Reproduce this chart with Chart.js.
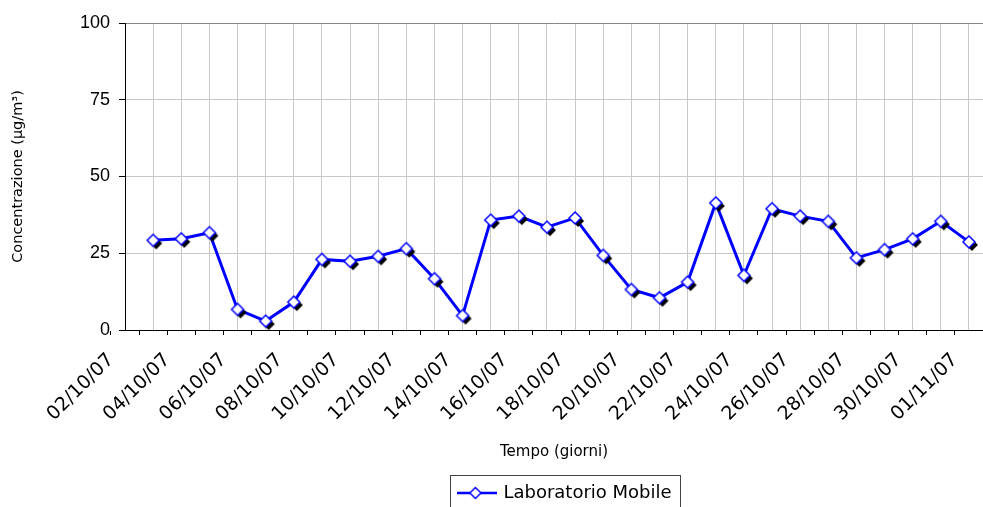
<!DOCTYPE html>
<html>
<head>
<meta charset="utf-8">
<script src="https://cdn.jsdelivr.net/npm/chart.js@4.4.0/dist/chart.umd.min.js"></script>
<style>
html, body { margin: 0; padding: 0; background: #fff; overflow: hidden; }
</style>
</head>
<body>
<canvas id="grafico" width="983" height="522"></canvas>
<script>
// giorni di misura (medie giornaliere)
var giorni = ['03/10/07', '04/10/07', '05/10/07', '06/10/07', '07/10/07', '08/10/07',
  '09/10/07', '10/10/07', '11/10/07', '12/10/07', '13/10/07', '14/10/07', '15/10/07',
  '16/10/07', '17/10/07', '18/10/07', '19/10/07', '20/10/07', '21/10/07', '22/10/07',
  '23/10/07', '24/10/07', '25/10/07', '26/10/07', '27/10/07', '28/10/07', '29/10/07',
  '30/10/07', '31/10/07', '01/11/07'];

// concentrazione in ug/m3, laboratorio mobile
var concentrazione = [29.2, 29.7, 31.7, 6.7, 2.9, 9.1, 23.0, 22.4, 24.0, 26.5,
  16.7, 4.7, 35.8, 37.1, 33.5, 36.5, 24.3, 13.2, 10.5, 15.6,
  41.4, 17.8, 39.5, 37.1, 35.4, 23.5, 26.2, 29.7, 35.4, 28.7];

// etichette asse x, una ogni due giorni
var etichette_x = ['02/10/07', '04/10/07', '06/10/07', '08/10/07', '10/10/07', '12/10/07',
  '14/10/07', '16/10/07', '18/10/07', '20/10/07', '22/10/07', '24/10/07', '26/10/07',
  '28/10/07', '30/10/07', '01/11/07'];

var tick_y = [0, 25, 50, 75, 100];

var nome_serie = 'Laboratorio Mobile';

// punti: giorno 0 = 02/10/07, valore medio posto a mezzogiorno
var punti = [];
for (var i = 0; i < giorni.length; i++) {
  punti.push({x: i + 1.5, y: concentrazione[i]});
}

// rombo bianco bordato di blu con ombra nera (stile excel)
function crea_marcatore(ombra) {
  var c = document.createElement('canvas');
  c.width = 26; c.height = 26;
  var g = c.getContext('2d');
  var r = 6;
  function rombo(cx, cy) {
    g.beginPath();
    g.moveTo(cx, cy - r); g.lineTo(cx + r, cy); g.lineTo(cx, cy + r); g.lineTo(cx - r, cy);
    g.closePath();
  }
  if (ombra) { rombo(16, 16); g.fillStyle = '#000'; g.fill(); }
  rombo(13, 13);
  g.fillStyle = '#fff'; g.fill();
  g.lineWidth = 1.5; g.strokeStyle = '#0000ff'; g.stroke();
  return c;
}

function crea_marcatore_legenda() {
  var c = document.createElement('canvas');
  c.width = 40; c.height = 14;
  var g = c.getContext('2d');
  g.strokeStyle = '#0000ff';
  g.lineWidth = 2.5;
  g.beginPath(); g.moveTo(0, 7); g.lineTo(40, 7); g.stroke();
  g.beginPath();
  g.moveTo(18, 1.5); g.lineTo(23.5, 7); g.lineTo(18, 12.5); g.lineTo(12.5, 7); g.closePath();
  g.fillStyle = '#fff'; g.fill();
  g.lineWidth = 1.5; g.stroke();
  return c;
}

var marcatore = crea_marcatore(true);
var marcatore_legenda = crea_marcatore_legenda();

// cornice intorno alla legenda, e legenda spostata un po' a destra
var bordo_legenda = {
  id: 'bordo_legenda',
  afterLayout: function(chart) {
    chart.legend.left += 12;
    chart.legend.right += 12;
  },
  afterDraw: function(chart) {
    var hb = chart.legend.legendHitBoxes[0];
    if (!hb) return;
    var ctx = chart.ctx;
    ctx.save();
    ctx.strokeStyle = '#444';
    ctx.lineWidth = 1;
    ctx.strokeRect(Math.round(hb.left) - 9.5, Math.round(hb.top) - 8.5, Math.round(hb.width) + 19, 60);
    ctx.restore();
  }
};

var grafico = new Chart(document.getElementById('grafico'), {
  type: 'line',
  data: {
    datasets: [{
      label: nome_serie,
      data: punti,
      borderColor: '#0000ff',
      borderWidth: 3,
      pointStyle: marcatore,
      pointRadius: 6,
      pointHoverRadius: 6,
      tension: 0
    }]
  },
  options: {
    responsive: false,
    devicePixelRatio: 1,
    animation: false,
    events: [],
    layout: {autoPadding: false, padding: {top: 23, left: 0, right: 0, bottom: 10}},
    plugins: {
      tooltip: {enabled: false},
      legend: {
        position: 'bottom',
        fullSize: false,
        labels: {
          usePointStyle: true,
          pointStyleWidth: 34,
          padding: 10,
          color: '#000',
          font: {family: 'DejaVu Sans', size: 18},
          generateLabels: function(chart) {
            return [{text: nome_serie, pointStyle: marcatore_legenda, datasetIndex: 0,
              fillStyle: '#fff', strokeStyle: '#0000ff', lineWidth: 0, hidden: false}];
          }
        }
      }
    },
    scales: {
      x: {
        type: 'linear',
        min: 0.5,
        max: 31,
        afterBuildTicks: function(scale) {
          var t = [];
          for (var d = 0; d <= 31; d++) {
            t.push({value: d});
            if (d >= 1 && d <= 30) t.push({value: d + 0.5});
          }
          scale.ticks = t;
        },
        afterFit: function(scale) {
          scale.height = 144;
          scale.paddingLeft = 0;
          scale.paddingRight = 0;
        },
        border: {color: '#000', width: 1},
        grid: {
          color: function(ctx) {
            return (ctx.tick && ctx.tick.value % 1 !== 0) ? '#c8c8c8' : 'rgba(0,0,0,0)';
          },
          tickColor: function(ctx) {
            return (ctx.tick && ctx.tick.value % 1 === 0) ? '#000' : 'rgba(0,0,0,0)';
          },
          tickLength: 5
        },
        ticks: {
          autoSkip: false,
          minRotation: 45,
          maxRotation: 45,
          padding: 14,
          color: '#000',
          font: {family: 'DejaVu Sans', size: 19},
          callback: function(value) {
            if (value % 2 === 0) return etichette_x[value / 2];
            return '';
          }
        },
        title: {
          display: true,
          text: 'Tempo (giorni)',
          color: '#000',
          font: {family: 'DejaVu Sans', size: 15},
          padding: {top: 0, bottom: 13}
        }
      },
      y: {
        min: 0,
        max: 100,
        afterBuildTicks: function(scale) {
          scale.ticks = tick_y.map(function(v) { return {value: v}; });
        },
        afterFit: function(scale) { scale.width = 125; },
        border: {color: '#000', width: 1},
        grid: {
          color: function(ctx) {
            if (!ctx.tick) return '#c8c8c8';
            if (ctx.tick.value === 100) return '#888';
            if (ctx.tick.value === 0) return 'rgba(0,0,0,0)';
            return '#c8c8c8';
          },
          tickColor: '#000',
          tickLength: 6
        },
        ticks: {
          padding: 9,
          color: '#000',
          font: {family: 'Liberation Sans', size: 18}
        },
        title: {
          display: true,
          text: 'Concentrazione (µg/m³)',
          color: '#000',
          font: {family: 'DejaVu Sans', size: 14.5},
          padding: {top: 10, bottom: 0}
        }
      }
    }
  },
  plugins: [bordo_legenda]
});
</script>
</body>
</html>
